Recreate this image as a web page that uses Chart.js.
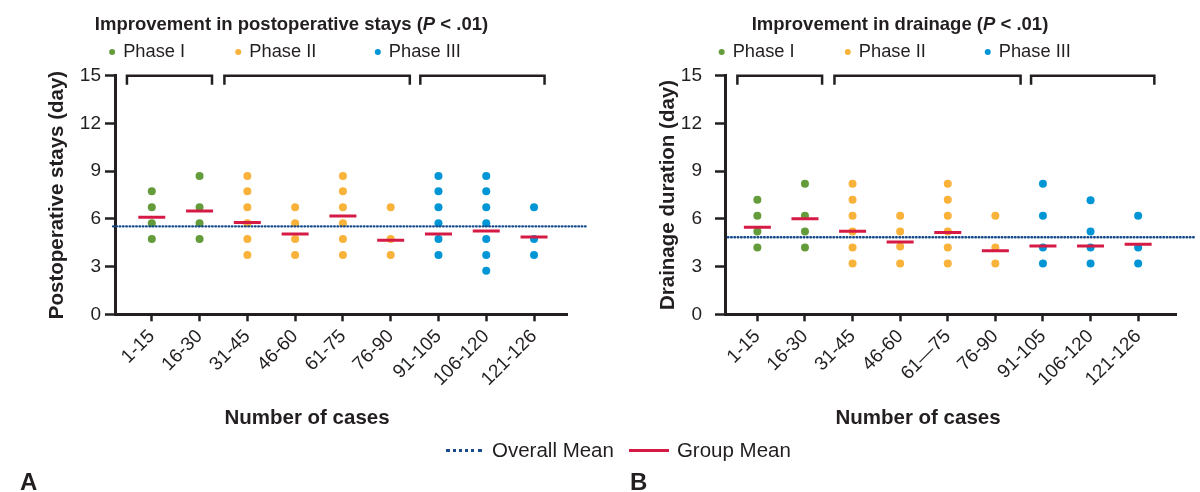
<!DOCTYPE html>
<html>
<head>
<meta charset="utf-8">
<script src="https://cdn.jsdelivr.net/npm/chart.js@4.4.1/dist/chart.umd.min.js"></script>
<style>
  body { margin: 0; background: #fff; width: 1200px; height: 492px; overflow: hidden; position: relative;
         font-family: "Liberation Sans", Arial, Helvetica, sans-serif; color: #231f20; }
  .panel { position: absolute; top: 0; width: 600px; height: 492px; }
  #legend { position: absolute; left: 446px; top: 438px; height: 24px; display: flex; align-items: center;
            font-size: 20.5px; white-space: nowrap; }
  #legend .dots { width: 36px; border-top: 3px dotted #174b8c; margin-right: 10px; }
  #legend .bar { width: 40px; border-top: 3px solid #d61a46; margin-left: 15px; margin-right: 8px; }
  .tag { position: absolute; top: 470px; font-size: 24px; line-height: 24px; font-weight: bold; }
</style>
</head>
<body>
<div class="panel" style="left:0"><canvas id="chartA" width="600" height="492"></canvas></div>
<div class="panel" style="left:600px"><canvas id="chartB" width="600" height="492"></canvas></div>
<div id="legend"><span class="dots"></span>Overall Mean<span class="bar"></span>Group Mean</div>
<div class="tag" style="left:20px">A</div>
<div class="tag" style="left:630px">B</div>
<script>
const family = '"Liberation Sans", Arial, Helvetica, sans-serif';
const ink = '#231f20';

// categories
const casesA = ['1-15', '16-30', '31-45', '46-60', '61-75', '76-90', '91-105', '106-120', '121-126'];
const casesB = ['1-15', '16-30', '31-45', '46-60', '61\u201475', '76-90', '91-105', '106-120', '121-126'];
const phaseNames = ['Phase I', 'Phase II', 'Phase III'];
const phaseColors = ['#649c3c', '#f9b23a', '#0096d6'];
const groupPhase = [0, 0, 1, 1, 1, 1, 2, 2, 2];
const yTicks = [0, 3, 6, 9, 12, 15];

// A: postoperative stays (day), one list per case group
const staysValues = [
    [7.73, 6.73, 5.73, 4.73],
    [8.7, 6.73, 5.73, 4.73],
    [8.7, 7.73, 6.73, 5.73, 4.73, 3.73],
    [6.73, 5.73, 4.73, 3.73],
    [8.7, 7.73, 6.73, 5.73, 4.73, 3.73],
    [6.73, 4.73, 3.73],
    [8.7, 7.73, 6.73, 5.73, 4.73, 3.73],
    [8.7, 7.73, 6.73, 5.73, 4.73, 3.73, 2.73],
    [6.73, 4.73, 3.73]
];
const staysGroupMean = [6.1, 6.5, 5.77, 5.05, 6.18, 4.65, 5.05, 5.24, 4.86];
const staysOverallMean = 5.53;

// B: drainage duration (day)
const drainValues = [
    [7.2, 6.2, 5.2, 4.2],
    [8.2, 6.2, 5.2, 4.2],
    [8.2, 7.2, 6.2, 5.2, 4.2, 3.2],
    [6.2, 5.2, 4.26, 3.2],
    [8.2, 7.2, 6.2, 5.2, 4.2, 3.2],
    [6.2, 4.2, 3.2],
    [8.2, 6.2, 4.2, 3.2],
    [7.17, 5.2, 4.2, 3.2],
    [6.2, 4.2, 3.2]
];
const drainGroupMean = [5.47, 6.0, 5.22, 4.55, 5.14, 4.0, 4.3, 4.3, 4.4];
const drainOverallMean = 4.84;

// titles, phase brackets and legend drawn on top
const decor = {
    id: 'decor',
    afterDraw(chart, args, o) {
        const { ctx } = chart;
        const x = chart.scales.x, y = chart.scales.y;
        ctx.save();
        ctx.fillStyle = ink;
        ctx.strokeStyle = ink;
        ctx.textBaseline = 'middle';
        ctx.textAlign = 'left';

        // title with italic P
        const parts = [[o.title + ' (', 'bold'], ['P', 'italic bold'], [' < .01)', 'bold']];
        let total = 0;
        parts.forEach(p => { ctx.font = p[1] + ' 18.5px ' + family; p.push(ctx.measureText(p[0]).width); total += p[2]; });
        let tx = o.titleX - total / 2;
        parts.forEach(p => { ctx.font = p[1] + ' 18.5px ' + family; ctx.fillText(p[0], tx, 25); tx += p[2]; });

        // phase legend
        ctx.font = '18.3px ' + family;
        phaseNames.forEach((name, i) => {
            const px = x.getPixelForValue(o.legendAt[i]);
            ctx.fillStyle = phaseColors[i];
            ctx.beginPath(); ctx.arc(px, 52, 3, 0, Math.PI * 2); ctx.fill();
            ctx.fillStyle = ink;
            ctx.fillText(name, px + 11, 52);
        });

        // brackets
        const top = y.getPixelForValue(15);
        ctx.lineWidth = 2.5;
        o.brackets.forEach(([a, b]) => {
            const xa = x.getPixelForValue(a), xb = x.getPixelForValue(b);
            ctx.beginPath();
            ctx.moveTo(xa, top + 9); ctx.lineTo(xa, top); ctx.lineTo(xb, top); ctx.lineTo(xb, top + 9);
            ctx.stroke();
        });

        // x axis title
        ctx.font = 'bold 20.5px ' + family;
        ctx.textAlign = 'center';
        ctx.fillText('Number of cases', o.xTitleX, 418);
        ctx.restore();
    }
};

function makeChart(id, s) {
    const datasets = [
        {
            type: 'line', label: 'Overall Mean',
            data: [{ x: s.lineFrom, y: s.overall }, { x: s.lineTo, y: s.overall }],
            borderColor: '#174b8c', borderWidth: 2.4, borderDash: [0.6, 2.7], borderCapStyle: 'round',
            pointRadius: 0, fill: false, clip: false
        },
        {
            type: 'scatter', label: 'Group Mean',
            data: s.means.map((m, i) => ({ x: i, y: m })),
            pointStyle: 'line', pointRadius: 13.5, borderColor: '#d61a46', borderWidth: 3
        }
    ];
    phaseNames.forEach((name, p) => {
        datasets.push({
            type: 'scatter', label: name,
            data: s.values.flatMap((vals, i) => groupPhase[i] === p ? vals.map(v => ({ x: i, y: v })) : []),
            backgroundColor: phaseColors[p], borderWidth: 0, pointRadius: 4, pointHoverRadius: 4
        });
    });

    return new Chart(document.getElementById(id), {
        type: 'scatter',
        data: { datasets },
        options: {
            responsive: false,
            animation: false,
            layout: { padding: { top: 75.7, right: s.padRight, bottom: 0, left: 0 } },
            plugins: { legend: { display: false }, tooltip: { enabled: false }, decor: s.decor },
            scales: {
                x: {
                    type: 'linear', min: s.xMin, max: s.xMax,
                    afterBuildTicks: sc => { sc.ticks = s.cases.map((c, i) => ({ value: i })); },
                    afterFit: sc => { sc.height = 492 - 314.3; },
                    ticks: {
                        callback: v => s.cases[v], autoSkip: false, minRotation: 45, maxRotation: 45,
                        font: { size: 19, family }, color: ink, padding: 4
                    },
                    grid: { drawOnChartArea: false, drawTicks: true, tickLength: 7, tickColor: ink, tickWidth: 2.5 },
                    border: { color: ink, width: 3 }
                },
                y: {
                    min: 0, max: 15,
                    afterBuildTicks: sc => { sc.ticks = yTicks.map(v => ({ value: v })); },
                    afterFit: sc => { sc.width = s.plotLeft; },
                    ticks: { font: { size: 19, family }, color: ink, padding: s.yTickPad },
                    grid: { drawOnChartArea: false, drawTicks: true, tickLength: 10, tickColor: ink, tickWidth: 2.5 },
                    border: { color: ink, width: 3 },
                    title: {
                        display: true, text: s.yTitle, color: ink,
                        font: { size: 20.5, weight: 'bold', family }, padding: { top: s.yTitlePad, bottom: 0 }
                    }
                }
            }
        },
        plugins: [decor]
    });
}

makeChart('chartA', {
    cases: casesA, values: staysValues, means: staysGroupMean, overall: staysOverallMean,
    yTitle: 'Postoperative stays (day)', plotLeft: 115, padRight: 33, yTitlePad: 44.7, yTickPad: 4,
    xMin: -0.77, xMax: 8.69, lineFrom: -0.81, lineTo: 9.1,
    decor: {
        title: 'Improvement in postoperative stays', titleX: 291.5, xTitleX: 307,
        legendAt: [-0.83, 1.81, 4.73],
        brackets: [[-0.52, 1.26], [1.52, 5.4], [5.62, 8.22]]
    }
});

makeChart('chartB', {
    cases: casesB, values: drainValues, means: drainGroupMean, overall: drainOverallMean,
    yTitle: 'Drainage duration (day)', plotLeft: 125, padRight: 23.3, yTitlePad: 55.7, yTickPad: 13,
    xMin: -0.68, xMax: 8.81, lineFrom: -0.62, lineTo: 9.19,
    decor: {
        title: 'Improvement in drainage', titleX: 300, xTitleX: 318,
        legendAt: [-0.75, 1.9, 4.84],
        brackets: [[-0.42, 1.36], [1.62, 5.53], [5.75, 8.34]]
    }
});
</script>
</body>
</html>
